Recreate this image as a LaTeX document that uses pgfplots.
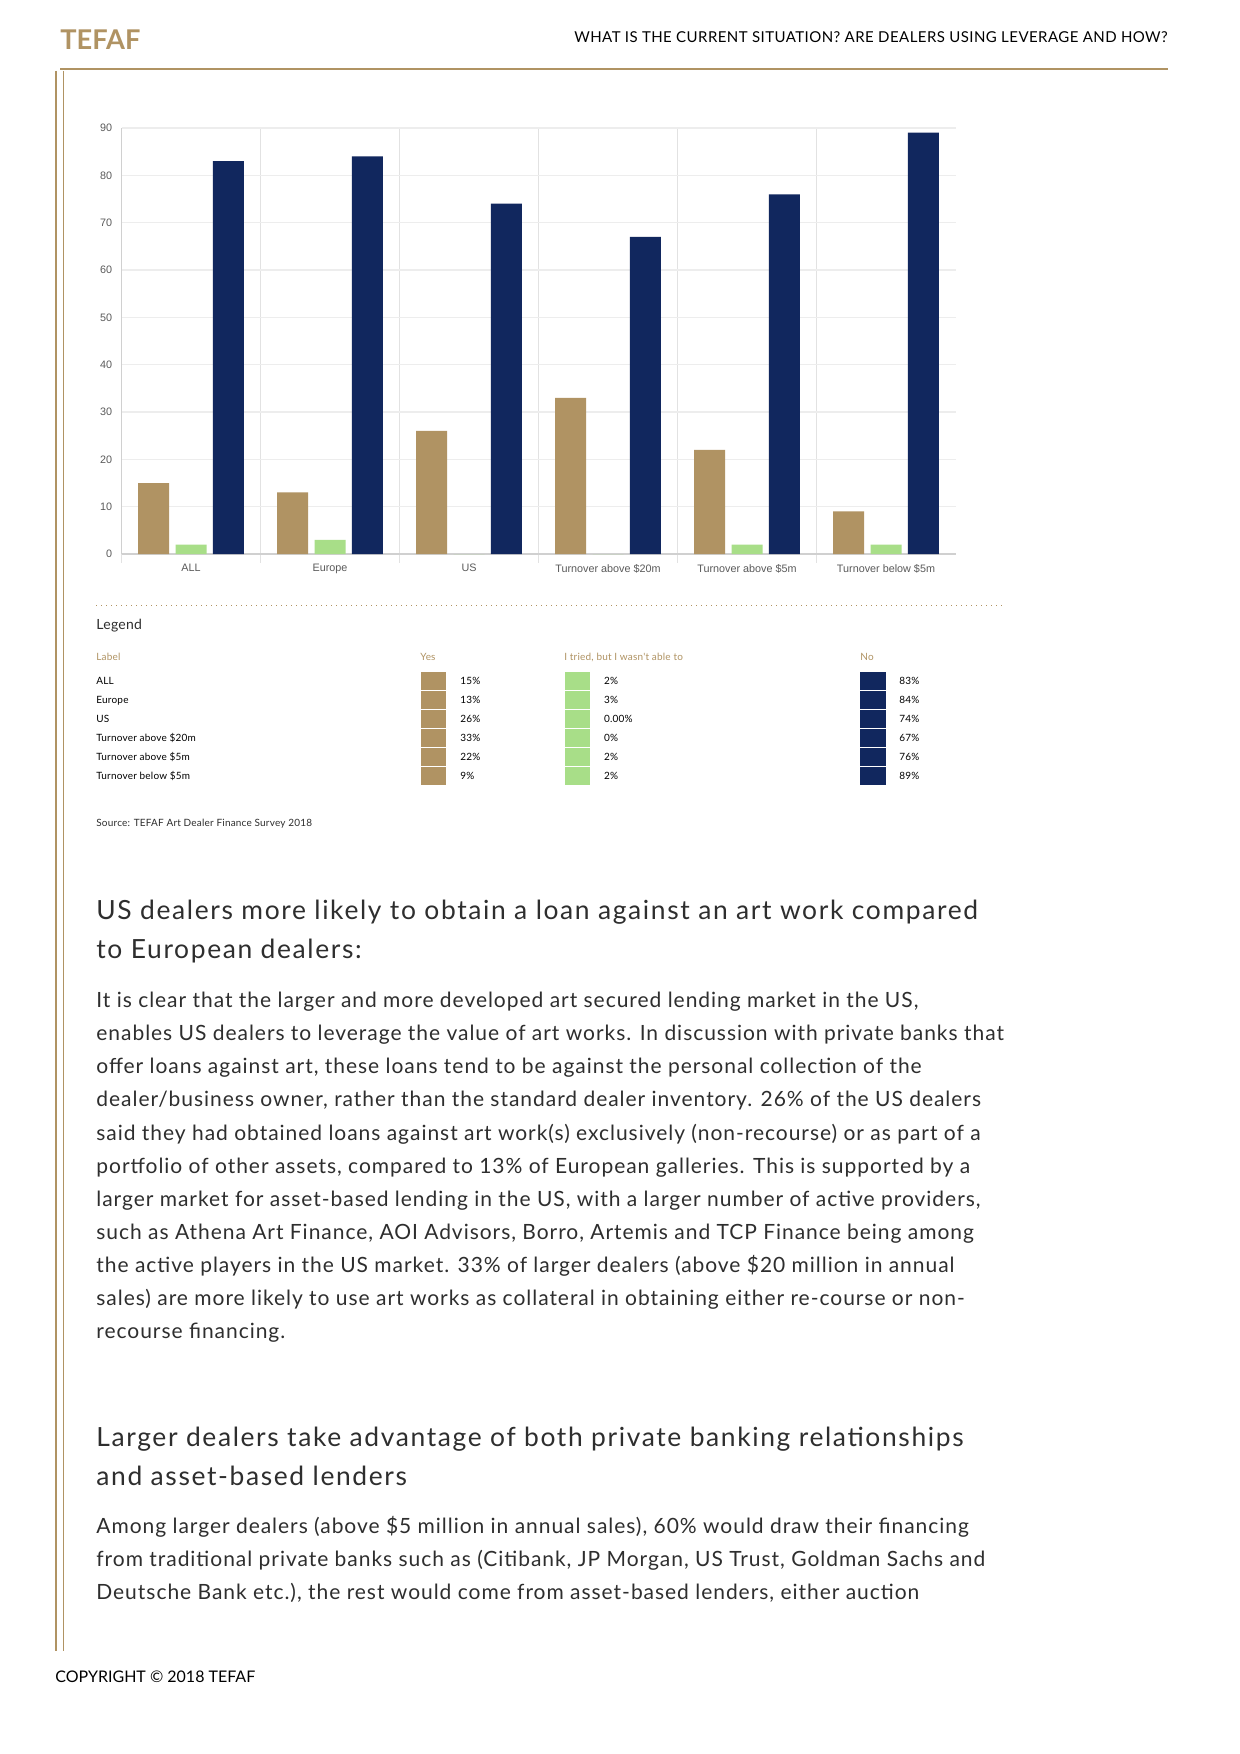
\documentclass[border=0pt]{standalone}
\usepackage{pgfplots}
\pgfplotsset{compat=1.18}
\usepackage{fontspec}
\setmainfont{Lato}
\newfontfamily\arial{Liberation Sans}
\newfontfamily\bodyff[LetterSpace=4.6]{Lato}
\newfontfamily\headff[LetterSpace=6.2]{Lato}
\newfontfamily\capff[LetterSpace=3]{Lato}
\newfontfamily\smallff[LetterSpace=2]{Lato}
\definecolor{gold}{HTML}{B09363}
\definecolor{lgreen}{HTML}{A8DE88}
\definecolor{navy}{HTML}{11275E}
\definecolor{txt}{HTML}{2E2E2E}
\definecolor{gridgray}{HTML}{EDEDED}
\definecolor{sepgray}{HTML}{E2E2E2}
\definecolor{axisgray}{HTML}{D0D0D0}
\definecolor{ticktext}{HTML}{5A5A5A}
\newcommand\bodyfont{\bodyff\fontsize{10.5}{12}\selectfont}
\newcommand\headfont{\headff\fontsize{13.2}{15}\selectfont}
\newcommand\smallfont{\smallff\fontsize{5}{6}\selectfont}
\begin{document}
\begin{tikzpicture}
\begin{scope}[x=0.5pt,y=-0.5pt]
\useasboundingbox (0,0) rectangle (1240,1754);
\fill[white] (0,0) rectangle (1240,1754);
% header
\node[anchor=base west,inner sep=0pt,text=gold,font=\fontsize{13.6}{16}\selectfont\bfseries] at (60,50) {TEFAF};
\node[anchor=base east,inner sep=0pt,text=black,font=\capff\fontsize{7.5}{9}\selectfont] at (1168,42.5) {WHAT IS THE CURRENT SITUATION? ARE DEALERS USING LEVERAGE AND HOW?};
\draw[gold,line width=0.7pt] (60,69) -- (1168,69);
\draw[gold,line width=0.85pt] (55.8,71) -- (55.8,1651);
\draw[gold,line width=0.85pt] (63.5,71) -- (63.5,1651);
% legend table
\draw[gold,line width=0.5pt,dotted] (96,605) -- (1003,605);
\node[anchor=base west,inner sep=0pt,text=txt,font=\smallff\fontsize{7}{8}\selectfont] at (96,629.3) {Legend};
\begin{scope}[every node/.style={anchor=base west,inner sep=0pt,font=\smallfont}]
\node[text=gold] at (96,660) {Label};
\node[text=gold] at (420,660) {Yes};
\node[text=gold] at (564,660) {I tried, but I wasn't able to};
\node[text=gold] at (860,660) {No};
\foreach \lab/\yv/\tv/\nv [count=\i from 0] in {ALL/15/2/83,Europe/13/3/84,US/26/0.00/74,{Turnover above \$20m}/33/0/67,{Turnover above \$5m}/22/2/76,{Turnover below \$5m}/9/2/89}{
  \pgfmathsetmacro\yb{684+19*\i}
  \pgfmathsetmacro\yt{672+19*\i}
  \node[text=black] at (96,\yb) {\lab};
  \fill[gold] (420.5,\yt) rectangle (445.5,\yt+18);
  \fill[lgreen] (565,\yt) rectangle (590,\yt+18);
  \fill[navy] (860,\yt) rectangle (886,\yt+18);
  \node[text=black] at (460,\yb) {\yv\%};
  \node[text=black] at (603.7,\yb) {\tv\%};
  \node[text=black] at (899,\yb) {\nv\%};
}
\node[text=txt] at (96,826.7) {Source: TEFAF Art Dealer Finance Survey 2018};
\end{scope}
% heading 1
\begin{scope}[every node/.style={anchor=base west,inner sep=0pt,text=txt}]
\node[font=\headfont] at (96,919.3) {US dealers more likely to obtain a loan against an art work compared};
\node[font=\headfont] at (96,958.3) {to European dealers:};
\node[font=\bodyfont] at (96,1007.7) {It is clear that the larger and more developed art secured lending market in the US,};
\node[font=\bodyfont] at (96,1040.8) {enables US dealers to leverage the value of art works. In discussion with private banks that};
\node[font=\bodyfont] at (96,1073.8) {offer loans against art, these loans tend to be against the personal collection of the};
\node[font=\bodyfont] at (96,1106.9) {dealer/business owner, rather than the standard dealer inventory. 26\% of the US dealers};
\node[font=\bodyfont] at (96,1140.0) {said they had obtained loans against art work(s) exclusively (non-recourse) or as part of a};
\node[font=\bodyfont] at (96,1173.0) {portfolio of other assets, compared to 13\% of European galleries. This is supported by a};
\node[font=\bodyfont] at (96,1206.1) {larger market for asset-based lending in the US, with a larger number of active providers,};
\node[font=\bodyfont] at (96,1239.2) {such as Athena Art Finance, AOI Advisors, Borro, Artemis and TCP Finance being among};
\node[font=\bodyfont] at (96,1272.3) {the active players in the US market. 33\% of larger dealers (above \$20 million in annual};
\node[font=\bodyfont] at (96,1305.3) {sales) are more likely to use art works as collateral in obtaining either re-course or non-};
\node[font=\bodyfont] at (96,1338.4) {recourse financing.};
\node[font=\headfont] at (96,1446.7) {Larger dealers take advantage of both private banking relationships};
\node[font=\headfont] at (96,1485.0) {and asset-based lenders};
\node[font=\bodyfont] at (96,1533.5) {Among larger dealers (above \$5 million in annual sales), 60\% would draw their financing};
\node[font=\bodyfont] at (96,1566.5) {from traditional private banks such as (Citibank, JP Morgan, US Trust, Goldman Sachs and};
\node[font=\bodyfont] at (96,1599.5) {Deutsche Bank etc.), the rest would come from asset-based lenders, either auction};
\node[font=\fontsize{8}{10}\selectfont,text=black] at (55,1682.3) {COPYRIGHT \textcopyright\ 2018 TEFAF};
\end{scope}
\end{scope}
\begin{axis}[
  at={(60.75pt,-277pt)}, anchor=south west,
  scale only axis, width=417pt, height=213pt,
  xmin=-0.5, xmax=5.5, ymin=0, ymax=90,
  ybar=3.2pt, bar width=15.5pt,
  axis lines*=left,
  axis line style={draw=axisgray, line width=0.6pt},
  xtick={0,1,2,3,4,5},
  xticklabels={ALL,Europe,US,Turnover above \$20m,Turnover above \$5m,Turnover below \$5m},
  minor xtick={-0.5,0.5,1.5,2.5,3.5,4.5},
  xminorgrids, minor x grid style={sepgray, line width=0.6pt},
  ymajorgrids, major y grid style={gridgray, line width=0.7pt},
  ytick={0,10,...,90},
  major tick length=0pt, minor tick length=4.35pt, tick align=outside,
  minor tick style={sepgray, line width=0.6pt},
  /pgf/number format/assume math mode=true,
  tick label style={font=\arial\fontsize{5.4}{6}\selectfont, text=ticktext, inner sep=0pt},
  yticklabel style={xshift=-4.5pt},
  xticklabel style={yshift=-5pt},
]
\addplot[fill=gold, draw=none] coordinates {(0,15) (1,13) (2,26) (3,33) (4,22) (5,9)};
\addplot[fill=lgreen, draw=none] coordinates {(0,2) (1,3) (2,0) (3,0) (4,2) (5,2)};
\addplot[fill=navy, draw=none] coordinates {(0,83) (1,84) (2,74) (3,67) (4,76) (5,89)};
\end{axis}
\end{tikzpicture}
\end{document}
